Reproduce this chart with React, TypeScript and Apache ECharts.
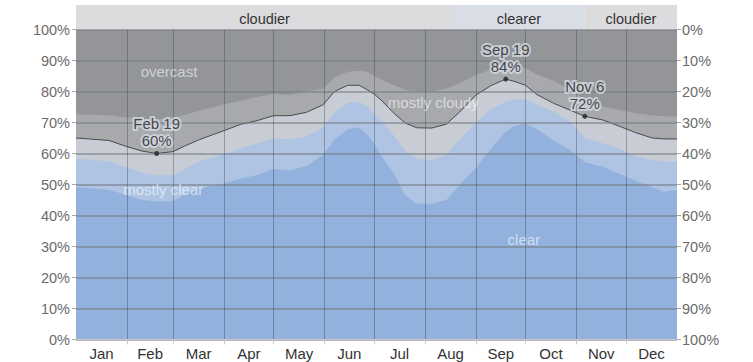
import React, { useEffect, useRef } from 'react';
import * as echarts from 'echarts';

// Day of year (0 = Jan 1) at which the band boundaries were read
const days = [0, 10, 20, 31, 40, 49, 59, 66, 75, 90, 100, 110, 120, 130, 140, 150, 157, 165, 172, 177, 181, 186, 193, 200, 207, 216, 225, 233, 243, 252, 261, 266, 273, 280, 290, 300, 309, 320, 330, 340, 350, 357, 365];

// Cumulative percentage of time (from the bottom) at the top of each band
const clearTop = [49, 48.7, 48.3, 46.5, 45, 44.5, 44.7, 46.8, 48.8, 50.3, 52, 53, 55, 54.6, 56, 59.5, 64.5, 67.8, 68.4, 66, 63.3, 58.8, 53.5, 46.5, 43.8, 43.8, 45, 49.8, 55.5, 61.5, 67, 68.8, 69.7, 67.8, 64.3, 61.1, 57.2, 55.7, 53.4, 51.2, 49, 47.7, 48.2];
const mostlyClearTop = [58.2, 58, 57.5, 55.5, 53.8, 52.9, 53.1, 55, 57.5, 59.8, 61.7, 63.2, 64.8, 64.5, 65.5, 68.5, 73.2, 76.3, 76.8, 75, 72.8, 70.5, 65.8, 60.8, 58.3, 57.9, 59.5, 64.5, 70, 74.3, 76.8, 77.4, 77.5, 75.8, 73.5, 70.3, 65, 63.2, 61.6, 59, 57.8, 57.4, 57.4];
const partlyCloudyTop = [65, 64.6, 64.2, 62.2, 60.8, 60, 60.6, 62.4, 64.5, 67.4, 69.4, 70.6, 72.2, 72.2, 73.3, 75.7, 80, 82, 82, 80.5, 79.2, 76.9, 73, 69.8, 68.3, 68.2, 69.5, 73.4, 78.9, 81.9, 84, 83.3, 82, 79, 76.2, 74, 72, 70.8, 68.8, 66.7, 65, 64.7, 64.7];
const mostlyCloudyTop = [72.7, 72.5, 72.3, 71.5, 71, 71, 71.5, 72.5, 73.8, 75.9, 77, 78.2, 79.3, 78.9, 80.1, 81, 84.5, 86.4, 86.7, 86.4, 85.2, 83.8, 82, 80.5, 80, 80, 81, 82.7, 85.4, 87, 88.1, 88, 87.6, 85.5, 83.5, 80.5, 77.6, 75.2, 74, 73, 72.3, 72, 71.9];
const overcastTop = 100;

const monthNames = ['Jan', 'Feb', 'Mar', 'Apr', 'May', 'Jun', 'Jul', 'Aug', 'Sep', 'Oct', 'Nov', 'Dec'];
const monthStarts = [0, 31, 59, 90, 120, 151, 181, 212, 243, 273, 304, 334, 365];

const annotations = [
  { label: 'Feb 19', day: 49, pct: 60 },
  { label: 'Sep 19', day: 261, pct: 84 },
  { label: 'Nov 6', day: 309, pct: 72 },
];

const bandLabels = [
  { name: 'overcast', day: 56.5, pct: 86.6 },
  { name: 'mostly cloudy', day: 217, pct: 76.4 },
  { name: 'mostly clear', day: 53, pct: 48.5 },
  { name: 'clear', day: 272, pct: 32.3 },
];

const seasons = [
  { name: 'cloudier', start: 0, end: 229 },
  { name: 'clearer', start: 229, end: 309 },
  { name: 'cloudier', start: 309, end: 365 },
];

const FONT = "'Liberation Sans', Arial, Helvetica, sans-serif";

const COLORS = {
  overcast: '#939598',
  mostlyCloudy: '#a7a9ad',
  partlyCloudy: '#c8ccd4',
  mostlyClear: '#aec4e2',
  clear: '#92b1dc',
  cloudier: '#dcdcde',
  clearer: '#d9dde5',
};

export default function App() {
  const ref = useRef<HTMLDivElement>(null);

  useEffect(() => {
    document.body.style.margin = '0';
    if (!ref.current) return;
    const chart = echarts.init(ref.current, undefined, { renderer: 'svg' });

    const monthMids = monthStarts.slice(0, 12).map((s, i) => (s + monthStarts[i + 1]) / 2);
    const innerStarts = monthStarts.slice(1, 12);

    const area = (name: string, vals: number[], color: string, z: number, line = false) => ({
      type: 'line',
      name,
      data: days.map((d, i) => [d, vals[i]]),
      symbol: 'none',
      showSymbol: false,
      silent: true,
      z,
      lineStyle: line ? { color: '#4a4a4a', width: 1 } : { width: 0, opacity: 0 },
      itemStyle: { color },
      areaStyle: { color, opacity: 1, origin: 'start' },
      xAxisIndex: 0,
      yAxisIndex: 0,
    });

    const option: any = {
      animation: false,
      textStyle: { fontFamily: FONT },
      grid: [
        { left: 76, right: 76, top: 29.5, bottom: 22.5, outerBoundsMode: 'none', containLabel: false },
        { left: 76, right: 76, top: 5, height: 24.5, outerBoundsMode: 'none', containLabel: false },
      ],
      xAxis: [
        {
          type: 'value',
          gridIndex: 0,
          min: 0,
          max: 365,
          z: 6,
          axisLine: { show: true, lineStyle: { color: '#c8c8c8', width: 1 } },
          axisTick: { show: true, customValues: innerStarts, length: 5, lineStyle: { color: '#c8c8c8' } },
          axisLabel: {
            customValues: monthMids,
            formatter: (v: number) => {
              const i = monthMids.findIndex((m) => Math.abs(m - v) < 0.01);
              return i >= 0 ? monthNames[i] : '';
            },
            margin: 6,
            color: '#333',
            fontSize: 15,
            fontFamily: FONT,
          },
          splitLine: { show: true, lineStyle: { color: 'rgba(50,52,56,0.35)', width: 1 } },
        },
        { type: 'value', gridIndex: 1, min: 0, max: 365, show: false },
      ],
      yAxis: [
        {
          type: 'value',
          gridIndex: 0,
          min: 0,
          max: 100,
          interval: 10,
          position: 'left',
          z: 6,
          axisLine: { show: false },
          axisTick: { show: true, length: 4, lineStyle: { color: '#aaa' } },
          axisLabel: { formatter: '{value}%', color: '#6b6b6b', fontSize: 14.5, margin: 6, fontFamily: FONT },
          splitLine: { show: true, lineStyle: { color: 'rgba(118,122,130,0.55)', width: 2 } },
        },
        {
          type: 'value',
          gridIndex: 0,
          min: 0,
          max: 100,
          interval: 10,
          inverse: true,
          position: 'right',
          z: 6,
          axisLine: { show: false },
          axisTick: { show: true, length: 4, lineStyle: { color: '#aaa' } },
          axisLabel: { formatter: '{value}%', color: '#6b6b6b', fontSize: 14.5, margin: 5, fontFamily: FONT },
          splitLine: { show: false },
        },
        { type: 'value', gridIndex: 1, min: 0, max: 1, show: false },
      ],
      series: [
        {
          type: 'line',
          name: 'overcast',
          data: [[0, overcastTop], [365, overcastTop]],
          symbol: 'none',
          silent: true,
          z: 1,
          lineStyle: { width: 0, opacity: 0 },
          areaStyle: { color: COLORS.overcast, opacity: 1, origin: 'start' },
        },
        area('mostly cloudy', mostlyCloudyTop, COLORS.mostlyCloudy, 2),
        area('partly cloudy', partlyCloudyTop, COLORS.partlyCloudy, 3, true),
        area('mostly clear', mostlyClearTop, COLORS.mostlyClear, 4),
        area('clear', clearTop, COLORS.clear, 5),
        {
          type: 'scatter',
          name: 'band labels',
          silent: true,
          z: 7,
          symbolSize: 0,
          data: bandLabels.map((b) => ({ name: b.name, value: [b.day, b.pct] })),
          label: {
            show: true,
            position: 'inside',
            formatter: '{b}',
            color: 'rgba(255,255,255,0.72)',
            fontSize: 15,
            fontFamily: FONT,
          },
        },
        {
          type: 'scatter',
          name: 'annotations',
          silent: true,
          z: 8,
          symbol: 'circle',
          symbolSize: 5,
          itemStyle: { color: '#222' },
          data: annotations.map((a) => ({ name: a.label, value: [a.day, a.pct] })),
          label: {
            show: true,
            position: 'top',
            distance: 2,
            formatter: (p: any) => `${p.name}\n${p.value[1]}%`,
            color: '#222',
            fontSize: 15,
            lineHeight: 17,
            fontFamily: FONT,
            textBorderColor: 'rgba(214,219,229,0.95)',
            textBorderWidth: 4,
          },
        },
        {
          type: 'custom',
          name: 'seasons',
          xAxisIndex: 1,
          yAxisIndex: 2,
          silent: true,
          data: seasons.map((s) => [s.start, s.end]),
          renderItem: (params: any, api: any) => {
            const s = seasons[params.dataIndex];
            const p0 = api.coord([api.value(0), 1]);
            const p1 = api.coord([api.value(1), 0]);
            return {
              type: 'rect',
              shape: { x: p0[0], y: p0[1], width: p1[0] - p0[0], height: p1[1] - p0[1] },
              style: { fill: s.name === 'clearer' ? COLORS.clearer : COLORS.cloudier },
              textContent: {
                style: { text: s.name, fill: '#333', fontSize: 14.5, fontFamily: FONT },
              },
              textConfig: { position: 'inside', offset: [0, 2] },
            };
          },
        },
      ],
    };

    chart.setOption(option);
    return () => chart.dispose();
  }, []);

  return <div ref={ref} style={{ width: 753, height: 362 }} />;
}
